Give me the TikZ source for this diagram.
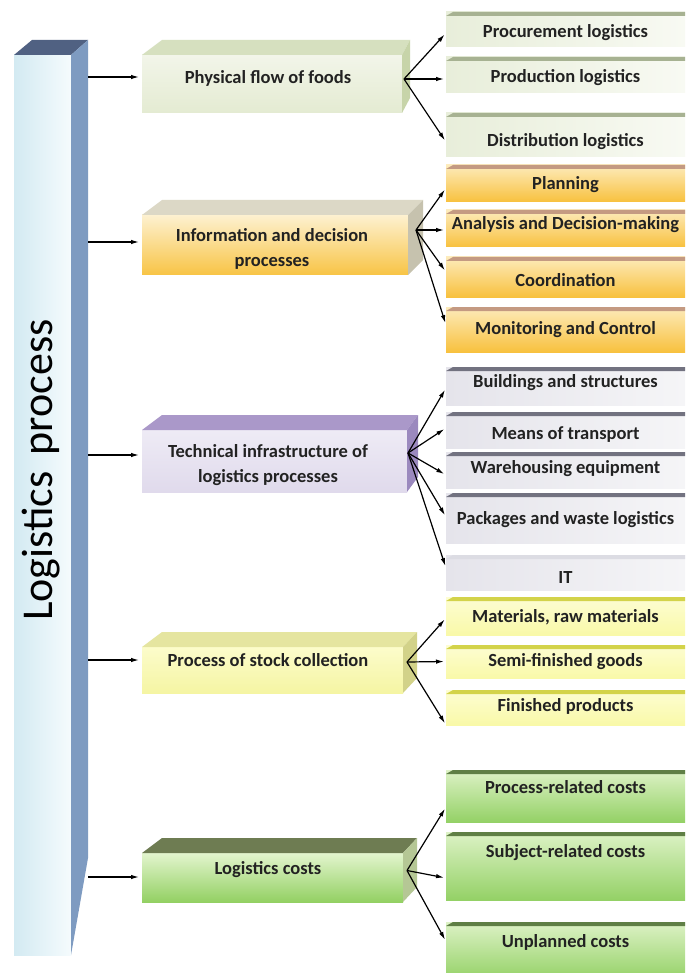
\documentclass[tikz,border=0pt]{standalone}
\usepackage{fontspec}
\setmainfont{Carlito}
\usetikzlibrary{arrows.meta,calc}

% ---- palette ----
\definecolor{txt}{HTML}{222222}
\definecolor{pilA}{HTML}{D3EAF2}
\definecolor{pilB}{HTML}{F5FBFD}
\definecolor{pilTop}{HTML}{506182}
\definecolor{pilSide}{HTML}{7E9BC1}
% physical flow
\definecolor{aFrontA}{HTML}{F2F5E9}
\definecolor{aFrontB}{HTML}{E4EBD2}
\definecolor{aTop}{HTML}{D6E0BF}
\definecolor{aSide}{HTML}{C7D4A9}
\definecolor{aKidA}{HTML}{E8EEDA}
\definecolor{aKidB}{HTML}{F8FAF3}
\definecolor{aStrip}{HTML}{A7B292}
% information
\definecolor{bFrontA}{HTML}{FDF1D0}
\definecolor{bFrontB}{HTML}{F8C445}
\definecolor{bTop}{HTML}{DCD8C6}
\definecolor{bSide}{HTML}{C6C2AE}
\definecolor{bKidA}{HTML}{FDEBBB}
\definecolor{bKidB}{HTML}{F8C13E}
\definecolor{bStrip}{HTML}{C49A82}
% technical
\definecolor{cFrontA}{HTML}{EEEBF5}
\definecolor{cFrontB}{HTML}{E0DAEC}
\definecolor{cTop}{HTML}{AA98C9}
\definecolor{cSide}{HTML}{9B89BE}
\definecolor{cKidA}{HTML}{E5E4EB}
\definecolor{cKidB}{HTML}{F5F5F7}
\definecolor{cStrip}{HTML}{727280}
\definecolor{cStripL}{HTML}{DCDCE3}
% stock
\definecolor{dFrontA}{HTML}{FCFCCB}
\definecolor{dFrontB}{HTML}{F5F5A3}
\definecolor{dTop}{HTML}{E5E5A0}
\definecolor{dSide}{HTML}{D2D289}
\definecolor{dKidA}{HTML}{FDFDD3}
\definecolor{dKidB}{HTML}{F9F9A8}
\definecolor{dStrip}{HTML}{D3D34A}
% costs
\definecolor{eFrontA}{HTML}{E3F5CE}
\definecolor{eFrontB}{HTML}{93D063}
\definecolor{eTop}{HTML}{6E7C52}
\definecolor{eSide}{HTML}{B5C795}
\definecolor{eKidA}{HTML}{DDF2C6}
\definecolor{eKidB}{HTML}{94D166}
\definecolor{eStrip}{HTML}{5F7F45}

\tikzset{
  arr/.style={line width=1.2pt, draw=black, -{Latex[length=8pt,width=4.5pt]}},
  face/.style={inner sep=0pt, outer sep=0pt, draw=none},
  maintext/.style={font=\bfseries\fontsize{18.5}{25}\selectfont, text=txt, align=center, inner sep=0pt},
  kidtext/.style={font=\bfseries\fontsize{18.5}{22}\selectfont, text=txt, inner sep=0pt},
  kidA/.style={left color=aKidA, right color=aKidB},
  kidB/.style={top color=bKidA, bottom color=bKidB},
  kidC/.style={left color=cKidA, right color=cKidB},
  kidD/.style={top color=dKidA, bottom color=dKidB},
  kidE/.style={top color=eKidA, bottom color=eKidB},
}

% top and side faces of a raised box: node, side depth, top colour, side colour
\newcommand\slabfaces[4]{%
  \fill[#3] (#1.north west) -- ++(20,-15) -- ($(#1.north east)+(#2,-15)$) -- (#1.north east) -- cycle;
  \fill[#4] (#1.north east) -- ($(#1.north east)+(#2,-15)$) -- ($(#1.south east)+(#2,-15)$) -- (#1.south east) -- cycle;
}
% flat item box with a coloured top edge: name, top, bottom, text y, text, face style, edge colour
\newcommand\kidbox[7]{%
  \node[face, minimum width=239pt, minimum height={(#3-#2)*1pt}, #6] (#1) at (565.5,{(#2+#3)/2}) {};
  \fill[#7] ([xshift=7pt]#1.north west) -- (#1.north east) -- ([yshift=-4pt]#1.north east) -- ([yshift=-4pt]#1.north west) -- cycle;
  \node[kidtext] (#1t) at (565.5,#4) {#5};
}

\begin{document}
\begin{tikzpicture}[x=1pt,y=-1pt]
\useasboundingbox (0,0) rectangle (685,973);
\fill[white] (0,0) rectangle (685,973);

% ---- left pillar ----
\node[face, minimum width=57pt, minimum height=900pt, left color=pilA, right color=pilB] (pillar) at (42.5,505) {};
\fill[pilTop] (pillar.north west) -- ++(18,-15) -- ($(pillar.north east)+(17,-15)$) -- (pillar.north east) -- cycle;
\fill[pilSide] (pillar.north east) -- ($(pillar.north east)+(17,-15)$) -- ($(pillar.south east)+(17,-97)$) -- (pillar.south east) -- cycle;
\node[rotate=90, font=\fontsize{44}{44}\selectfont, text=black, inner sep=0pt] (title) at (41,470) {Logistics\hspace{16pt}process};

% ---- main boxes ----
\node[face, minimum width=260pt, minimum height=58pt, top color=aFrontA, bottom color=aFrontB] (b1) at (272,84) {};
\slabfaces{b1}{8}{aTop}{aSide}
\node[maintext] (b1t) at (268,78) {Physical flow of foods};

\node[face, minimum width=266pt, minimum height=60pt, top color=bFrontA, bottom color=bFrontB] (b2) at (275,245) {};
\slabfaces{b2}{15}{bTop}{bSide}
\node[maintext] (b2t) at (272,249) {Information and decision\\processes};

\node[face, minimum width=265pt, minimum height=62pt, top color=cFrontA, bottom color=cFrontB] (b3) at (274.5,461) {};
\slabfaces{b3}{11}{cTop}{cSide}
\node[maintext] (b3t) at (268,465) {Technical infrastructure of\\logistics processes};

\node[face, minimum width=261pt, minimum height=46pt, top color=dFrontA, bottom color=dFrontB] (b4) at (272.5,670) {};
\slabfaces{b4}{14}{dTop}{dSide}
\node[maintext] (b4t) at (268,660) {Process of stock collection};

\node[face, minimum width=261pt, minimum height=49pt, top color=eFrontA, bottom color=eFrontB] (b5) at (272.5,877.5) {};
\slabfaces{b5}{14}{eTop}{eSide}
\node[maintext] (b5t) at (268,870) {Logistics costs};

% ---- item boxes ----
\kidbox{k11}{12}{47}{33}{Procurement logistics}{kidA}{aStrip}
\kidbox{k12}{57}{93}{78}{Production logistics}{kidA}{aStrip}
\kidbox{k13}{113}{157}{142}{Distribution logistics}{kidA}{aStrip}

\kidbox{k21}{165}{202}{185}{Planning}{kidB}{bStrip}
\kidbox{k22}{210}{247}{225}{Analysis and Decision-making}{kidB}{bStrip}
\kidbox{k23}{257}{297}{280}{Coordination}{kidB}{bStrip}
\kidbox{k24}{307}{352}{330}{Monitoring and Control}{kidB}{bStrip}

\kidbox{k31}{367}{405}{383}{Buildings and structures}{kidC}{cStrip}
\kidbox{k32}{412}{448}{435}{Means of transport}{kidC}{cStrip}
\kidbox{k33}{452}{488}{469}{Warehousing equipment}{kidC}{cStrip}
\kidbox{k34}{493}{543}{520}{Packages and waste logistics}{kidC}{cStrip}
\kidbox{k35}{555}{590}{577}{IT}{kidC}{cStripL}

\kidbox{k41}{597}{635}{617}{Materials, raw materials}{kidD}{dStrip}
\kidbox{k42}{645}{678}{662}{Semi-finished goods}{kidD}{dStrip}
\kidbox{k43}{690}{725}{706}{Finished products}{kidD}{dStrip}

\kidbox{k51}{770}{822}{787}{Process-related costs}{kidE}{eStrip}
\kidbox{k52}{832}{900}{853}{Subject-related costs}{kidE}{eStrip}
\kidbox{k53}{922}{980}{942}{Unplanned costs}{kidE}{eStrip}

% ---- connectors from the pillar ----
\coordinate (p1) at (88,77);
\coordinate (p2) at (88,242);
\coordinate (p3) at (88,455);
\coordinate (p4) at (88,660);
\coordinate (p5) at (88,877);
\foreach \i in {1,...,5} \draw[arr, shorten >=3pt] (p\i) -- (p\i -| b\i.west);

% ---- fan-out connectors ----
\coordinate (o1) at ($(b1.east)+(2,-5)$);
\coordinate (o2) at ($(b2.east)+(8,-15)$);
\coordinate (o3) at ($(b3.east)+(1,-8)$);
\coordinate (o4) at ($(b4.east)+(4,-8)$);
\coordinate (o5) at ($(b5.east)+(4,-7)$);

\begin{scope}[shorten >=2pt]
\draw[arr] (o1) -- ([yshift=-3.5pt]k11.west);
\draw[arr] (o1) -- ([yshift=-4pt]k12.west);
\draw[arr] (o1) -- ([yshift=-7pt]k13.west);

\draw[arr] (o2) -- ([yshift=-4.5pt]k21.west);
\draw[arr] (o2) -- ([yshift=-1.5pt]k22.west);
\draw[arr] (o2) -- ([yshift=5pt]k23.west);
\draw[arr] (o2) -- ([yshift=4.5pt]k24.west);

\draw[arr] (o3) -- ([yshift=-2pt]k31.west);
\draw[arr] (o3) -- ([yshift=2pt]k32.west);
\draw[arr] (o3) -- ([yshift=-5pt]k33.west);
\draw[arr] (o3) -- ([yshift=1pt]k34.west);
\draw[arr] (o3) -- ([yshift=4.5pt]k35.west);

\draw[arr] (o4) -- ([yshift=-2pt]k41.west);
\draw[arr] (o4) -- (k42.west);
\draw[arr] (o4) -- ([yshift=-17.5pt]k43.west);

\draw[arr] (o5) -- ([yshift=-11pt]k51.west);
\draw[arr] (o5) -- ([yshift=-12pt]k52.west);
\draw[arr] (o5) -- ([yshift=9.5pt]k53.west);
\end{scope}
\end{tikzpicture}
\end{document}
